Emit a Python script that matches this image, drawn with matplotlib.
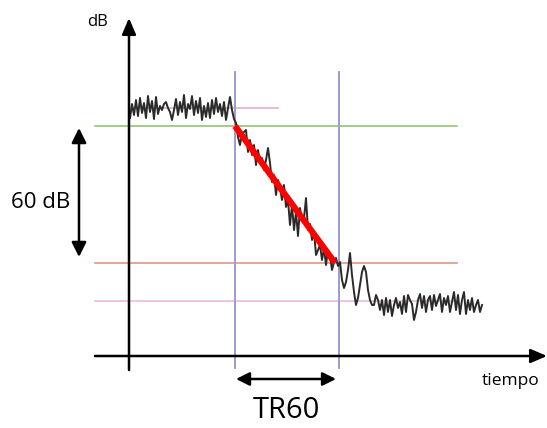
import numpy as np
import matplotlib
matplotlib.use("Agg")
from matplotlib import pyplot as plt

# schematic drawn in pixel coordinates (y grows downward)
# decay curve trace: plateau, decay, noise floor
trace_x = [130, 132, 134, 136, 138, 140, 142, 144, 146, 148, 150, 152, 154, 156, 158, 160,
           162, 164, 166, 168, 170, 172, 174, 176, 178, 180, 182, 184, 186, 188, 190, 192,
           194, 196, 198, 200, 202, 204, 206, 208, 210, 212, 214, 216, 218, 220, 222, 224,
           226, 228, 230, 232, 234,
           236, 238, 240, 242, 244, 246, 248, 250, 252, 254, 256, 258, 260, 262, 264, 266,
           268, 270, 272, 274, 276, 278, 280, 282, 284, 286, 288, 290, 292, 294, 296, 298,
           300, 302, 304, 306, 308, 310, 312, 314, 316, 318, 320, 322, 324, 326, 328, 330,
           332, 334, 336, 338,
           340, 342, 344, 346, 348, 350, 352, 354, 356, 358, 360, 362, 364, 366, 368, 370,
           372, 374, 376, 378, 380, 382, 384, 386, 388, 390, 392, 394, 396, 398, 400, 402,
           404, 406, 408, 410, 412, 414, 416, 418, 420, 422, 424, 426, 428, 430, 432, 434,
           436, 438, 440, 442, 444, 446, 448, 450, 452, 454, 456, 458, 460, 462, 464, 466,
           468, 470, 472, 474, 476, 478, 480, 482]
trace_y = [118, 104, 115, 100, 116, 98, 113, 103, 118, 96, 112, 101, 119, 97, 114, 106,
           110, 104, 102, 108, 112, 120, 110, 99, 115, 102, 112, 95, 118, 104, 109, 96,
           115, 101, 113, 98, 120, 106, 117, 103, 118, 100, 114, 98, 112, 104, 116, 102,
           120, 108, 97, 110, 119,
           123, 137, 145, 134, 132, 130, 152, 140, 155, 145, 165, 150, 162, 158, 170, 160,
           148, 163, 182, 175, 195, 180, 187, 200, 185, 207, 200, 225, 205, 230, 212, 236,
           208, 220, 218, 198, 230, 224, 240, 232, 255, 250, 245, 260, 248, 265, 250, 255,
           270, 262, 258, 266,
           262, 280, 288, 282, 270, 253, 275, 292, 305, 298, 285, 272, 266, 272, 290, 300,
           305, 305, 295, 300, 310, 300, 315, 298, 312, 300, 316, 305, 298, 308, 302, 314,
           296, 312, 295, 300, 304, 320, 312, 300, 294, 308, 296, 312, 300, 296, 310, 295,
           306, 300, 294, 312, 298, 305, 296, 312, 302, 292, 310, 295, 314, 300, 292, 314,
           300, 310, 298, 312, 305, 300, 312, 305]

# reference levels and times
level_top = 108      # average plateau
level_start = 126    # start of 60 dB range
level_end = 263      # end of 60 dB range
level_floor = 301    # noise floor
t_start = 235
t_end = 339
fit_x = [235, 335]
fit_y = [126, 263]

fig = plt.figure(figsize=(5.47, 4.28), dpi=100)
ax = fig.add_axes([0, 0, 1, 1])
ax.set_xlim(0, 547)
ax.set_ylim(428, 0)
ax.axis("off")

font = ["Open Sans", "DejaVu Sans"]

# horizontal reference lines
ax.plot([129, 278], [level_top, level_top], color="#dcaacb", lw=1.1)
ax.plot([95, 457], [level_start, level_start], color="#8cc063", lw=1.1)
ax.plot([95, 457], [level_end, level_end], color="#e0a08c", lw=1.3)
ax.plot([95, 457], [level_floor, level_floor], color="#e6b8d8", lw=1.1)

# vertical time markers
for t in (t_start, t_end):
    ax.plot([t, t], [72, 368], color="#9c9ccc", lw=1.4)

# axes with arrows
ax.annotate("", xy=(129, 18), xytext=(129, 370),
            arrowprops=dict(arrowstyle="-|>,head_width=0.3,head_length=0.7", color="black",
                            lw=1.8, mutation_scale=14, shrinkA=0, shrinkB=0))
ax.annotate("", xy=(547, 356), xytext=(95, 356),
            arrowprops=dict(arrowstyle="-|>,head_width=0.3,head_length=0.7", color="black",
                            lw=1.8, mutation_scale=14, shrinkA=0, shrinkB=0))

# signal
ax.plot(trace_x, trace_y, color="#2a2a2a", lw=1.4, solid_joinstyle="round")

# fitted slope
ax.plot(fit_x, fit_y, color="#ff0000", lw=4.5, solid_capstyle="butt")

# 60 dB double arrow
ax.annotate("", xy=(79, 128), xytext=(79, 257),
            arrowprops=dict(arrowstyle="<|-|>", color="black", lw=1.8,
                            mutation_scale=22, shrinkA=0, shrinkB=0))
# TR60 double arrow
ax.annotate("", xy=(236, 379), xytext=(336, 379),
            arrowprops=dict(arrowstyle="<|-|>", color="black", lw=1.8,
                            mutation_scale=20, shrinkA=0, shrinkB=0))

ax.text(98, 22, "dB", fontsize=12, family=font, ha="center", va="center")
ax.text(41, 202, "60 dB", fontsize=16, family=font, ha="center", va="center")
ax.text(511, 381, "tiempo", fontsize=12.5, family=font, ha="center", va="center")
ax.text(286, 410, "TR60", fontsize=21, family=font, ha="center", va="center")

fig.savefig("out.png", dpi=100)
